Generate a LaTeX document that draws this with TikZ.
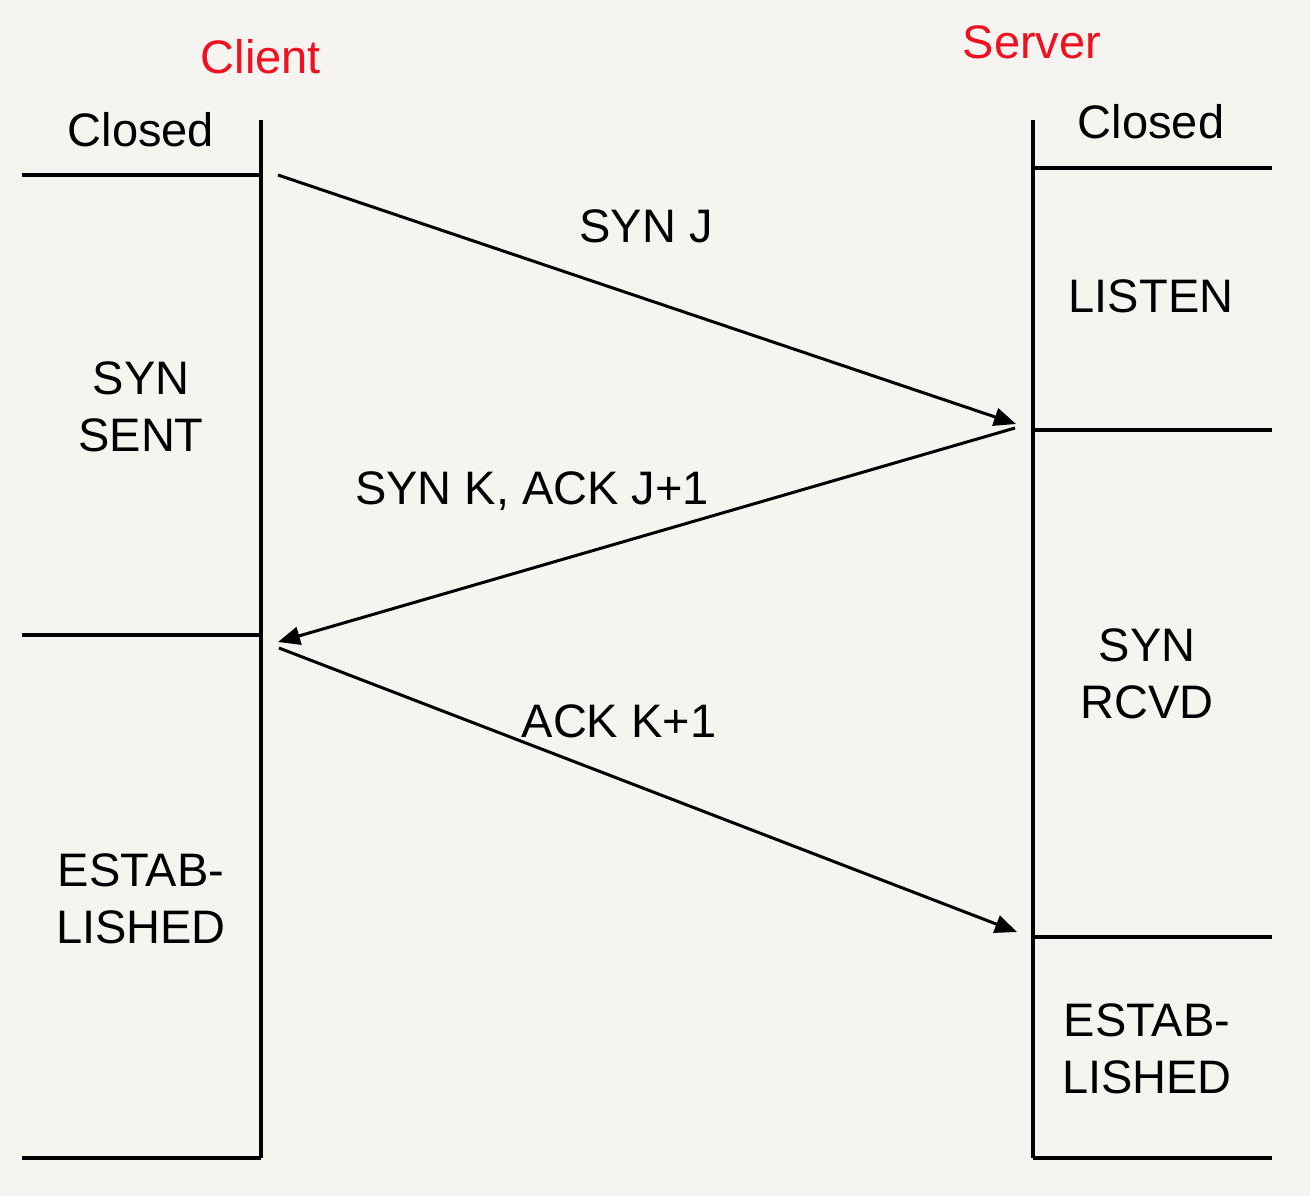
\documentclass[tikz,border=0pt]{standalone}
\usepackage{fontspec}
\setmainfont{Liberation Sans}
\usetikzlibrary{arrows.meta}
\definecolor{bg}{RGB}{245,244,240}
\definecolor{lbl}{RGB}{240,16,32}
\begin{document}
\begin{tikzpicture}[x=0.5pt,y=-0.5pt,
  txt/.style={inner sep=0pt,align=center,font=\fontsize{23.5}{28.5}\selectfont},
  role/.style={txt,text=lbl,anchor=base},
  life/.style={line width=2pt},
  state/.style={line width=1.8pt},
  msg/.style={line width=1.5pt,-{Triangle[length=11pt,width=9pt]}}]
\fill[bg] (0,0) rectangle (1310,1196);
\useasboundingbox (0,0) rectangle (1310,1196);
% lifelines
\draw[life] (261,120) -- (261,1158);
\draw[life] (1033,120) -- (1033,1158);
% state lines
\draw[state] (22,175) -- (261,175);
\draw[state] (22,635) -- (261,635);
\draw[state] (22,1158) -- (261,1158);
\draw[state] (1033,168) -- (1272,168);
\draw[state] (1033,430) -- (1272,430);
\draw[state] (1033,937) -- (1272,937);
\draw[state] (1033,1158) -- (1272,1158);
% titles
\node[role] (client) at (261,73) {Client};
\node[role] (server) at (1032,58) {Server};
% states
\node[txt,anchor=base] (cclosed) at (141,146) {Closed};
\node[txt,anchor=base] (sclosed) at (1151,138) {Closed};
\node[txt] (synsent) at (141,407) {SYN\\SENT};
\node[txt] (cest) at (141,899) {ESTAB-\\LISHED};
\node[txt,anchor=base] (listen) at (1151,312) {LISTEN};
\node[txt] (synrcvd) at (1147,674) {SYN\\RCVD};
\node[txt] (sest) at (1147,1049) {ESTAB-\\LISHED};
% messages
\coordinate (a1s) at (278,175);
\coordinate (a1e) at (1016,424);
\coordinate (a2s) at (1015,428);
\coordinate (a2e) at (278,642);
\coordinate (a3s) at (279,648);
\coordinate (a3e) at (1017,932);
\draw[msg] (a1s) -- (a1e);
\draw[msg] (a2s) -- (a2e);
\draw[msg] (a3s) -- (a3e);
\node[txt,anchor=base] (synj) at (646,242) {SYN J};
\node[txt,anchor=base] (synk) at (532,504) {SYN K, ACK J+1};
\node[txt,anchor=base] (ackk) at (619,737) {ACK K+1};
\end{tikzpicture}
\end{document}
